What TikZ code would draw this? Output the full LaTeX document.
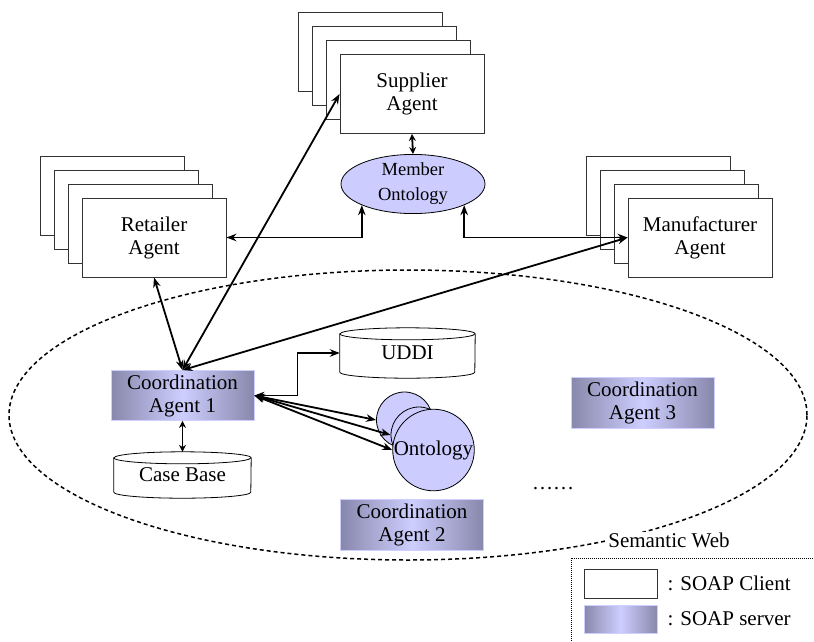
\documentclass[tikz,border=0pt]{standalone}
\usepackage{fontspec}
\setmainfont{Liberation Serif}
\usetikzlibrary{arrows.meta,shapes.geometric,backgrounds}
\definecolor{srvdark}{RGB}{136,136,172}
\definecolor{srvlight}{RGB}{206,206,255}
\definecolor{ontofill}{RGB}{204,204,255}

% cylinder outline around a node: #1 node name, #2 half width
\newcommand\storeoutline[2]{%
  \draw[line width=0.8pt, fill=white]
    (#1.north west) -- (#1.south west)
    arc[start angle=180, end angle=360, x radius=#2pt, y radius=6pt]
    -- (#1.north east)
    arc[start angle=0, end angle=180, x radius=#2pt, y radius=6pt] -- cycle;
  \draw[line width=0.8pt] (#1.north west)
    arc[start angle=180, end angle=360, x radius=#2pt, y radius=6pt];
}

\begin{document}
\begin{tikzpicture}[x=1pt,y=-1pt,
  lbl/.style={font=\fontsize{21}{23}\selectfont, align=center},
  client/.style={draw=black!80, line width=0.9pt, fill=white,
    minimum width=144pt, minimum height=79pt, inner sep=0pt, lbl},
  server/.style={draw=srvlight, line width=0.8pt, left color=srvdark,
    right color=srvdark, middle color=srvlight,
    minimum width=143pt, minimum height=50pt, inner sep=0pt, lbl},
  link/.style={line width=1.8pt,
    {Stealth[length=10pt,width=7.5pt]}-{Stealth[length=10pt,width=7.5pt]}},
  shortlink/.style={line width=1.8pt,
    {Stealth[length=7pt,width=7pt]}-{Stealth[length=7pt,width=7pt]}},
  store/.style={inner sep=0pt, lbl},
  onto/.style={circle, draw=black, line width=0.8pt, fill=ontofill,
    minimum size=56pt, inner sep=0pt},
]
\useasboundingbox (0,0) rectangle (814,641);

% semantic web region
\draw[line width=1.5pt, dash pattern=on 4pt off 3pt]
  (408,415) ellipse [x radius=399pt, y radius=145pt];
\node[lbl, fill=white, inner sep=1pt] (sweb) at (669,540) {Semantic Web};

% supplier stack
\node[client] (sup3) at (370,52) {};
\node[client] (sup2) at (384,66) {};
\node[client] (sup1) at (398,80) {};
\node[client] (sup)  at (412,94) {Supplier\\Agent};

% retailer stack
\node[client] (ret3) at (112,195.5) {};
\node[client] (ret2) at (126,209.5) {};
\node[client] (ret1) at (140,223.5) {};
\node[client] (ret)  at (154,237.5) {Retailer\\Agent};

% manufacturer stack
\node[client] (man3) at (658,195.5) {};
\node[client] (man2) at (672,209.5) {};
\node[client] (man1) at (686,223.5) {};
\node[client] (man)  at (700,237.5) {Manufacturer\\Agent};

% member ontology
\node[ellipse, draw=black, line width=0.8pt, fill=ontofill,
  minimum width=144pt, minimum height=58pt, inner sep=0pt,
  font=\fontsize{18.5}{25}\selectfont, align=center]
  (mont) at (413,184) {Member\\Ontology};

% coordination agents
\node[server] (c1) at (182.5,395.5) {Coordination\\Agent 1};
\node[server, minimum height=51pt] (c2) at (412,524.5) {Coordination\\Agent 2};
\node[server, minimum height=51pt] (c3) at (642.5,402.5) {Coordination\\Agent 3};

% data stores
\node[store, minimum width=137pt, minimum height=34pt] (cb) at (182.5,475) {Case Base};
\node[store, minimum width=135pt, minimum height=38pt] (uddi) at (407.5,353) {UDDI};
\begin{scope}[on background layer]
  \storeoutline{cb}{68.5}
  \storeoutline{uddi}{67.5}
\end{scope}

% domain ontologies
\node[onto] (on1) at (404.5,420) {};
\node[onto] (on2) at (419,435) {};
\node[onto, lbl] (on3) at (433.5,450) {Ontology};

\node[lbl] (dots) at (553,489) {……};

% connectors
\draw[shortlink] (sup.south) -- (mont.north);
\draw[link] (ret.east) -| (mont.south west);
\draw[link] (mont.south east) |- (man.west);
\draw[link] (c1.north) -- (sup.west);
\draw[link] (c1.north) -- (ret.south);
\draw[link] (c1.north) -- (man.west);
\draw[shortlink] (c1.south) -- ([yshift=6pt]cb.north);
\draw[link] (c1.east) -- ++(43,0) |- (uddi.west);
\draw[link] (c1.east) -- (on1.west);
\draw[link] (c1.east) -- (on2.west);
\draw[link] (c1.east) -- (on3.west);

% legend
\draw[line width=1pt, dash pattern=on 1pt off 1pt, fill=white]
  (571,558) rectangle (816,644);
\node[draw=black!80, line width=0.9pt, fill=white, minimum width=73pt,
  minimum height=29pt, inner sep=0pt] (keyc) at (620.5,583.5) {};
\node[server, minimum width=73pt, minimum height=28pt] (keys) at (620.5,619) {};
\node[lbl, anchor=west] (keyct) at (664,583) {: SOAP Client};
\node[lbl, anchor=west] (keyst) at (664,619) {: SOAP server};
\end{tikzpicture}
\end{document}
